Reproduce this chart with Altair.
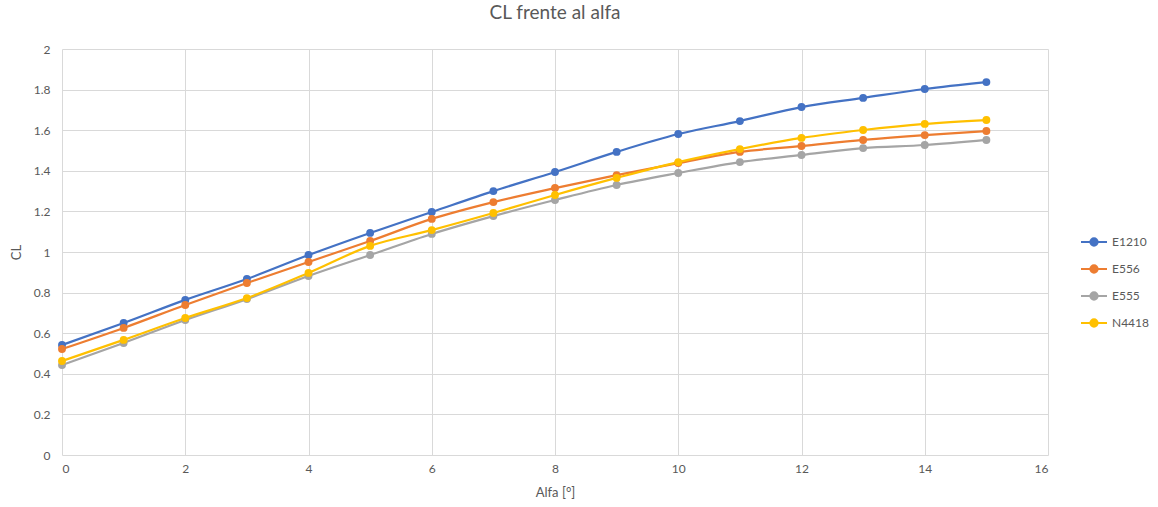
import altair as alt
import pandas as pd

# Angle of attack (degrees)
alfa = list(range(16))

# Lift coefficient per airfoil
cl_e1210 = [0.542, 0.650, 0.764, 0.867, 0.985, 1.094, 1.197, 1.300,
            1.394, 1.493, 1.581, 1.645, 1.714, 1.759, 1.803, 1.837]
cl_e556 = [0.522, 0.626, 0.739, 0.847, 0.951, 1.054, 1.163, 1.246,
           1.315, 1.379, 1.438, 1.493, 1.522, 1.552, 1.576, 1.596]
cl_e555 = [0.443, 0.552, 0.665, 0.768, 0.882, 0.985, 1.089, 1.177,
           1.256, 1.330, 1.389, 1.443, 1.478, 1.512, 1.527, 1.552]
cl_n4418 = [0.463, 0.567, 0.675, 0.773, 0.897, 1.030, 1.108, 1.192,
            1.281, 1.365, 1.443, 1.507, 1.562, 1.601, 1.631, 1.650]

series = ["E1210", "E556", "E555", "N4418"]
colors = ["#4472C4", "#ED7D31", "#A5A5A5", "#FFC000"]

rows = []
for name, vals in zip(series, [cl_e1210, cl_e556, cl_e555, cl_n4418]):
    for a, v in zip(alfa, vals):
        rows.append({"Alfa": a, "CL": v, "Perfil": name})
df = pd.DataFrame(rows)

FONT = "Lato"
TXT = "#595959"
GRID = "#D9D9D9"

# line with a dot in the middle, used as legend symbol
legend_symbol = "M-1,0L1,0M0.28,0A0.28,0.28,0,1,1,-0.28,0A0.28,0.28,0,1,1,0.28,0Z"

color = alt.Color(
    "Perfil:N",
    scale=alt.Scale(domain=series, range=colors),
    sort=series,
    legend=alt.Legend(
        title=None,
        orient="none",
        legendX=1018,
        legendY=179,
        symbolType=legend_symbol,
        symbolSize=676,
        symbolStrokeWidth=2,
        labelFont=FONT,
        labelFontSize=12,
        labelColor=TXT,
        rowPadding=5,
        labelOffset=4,
    ),
)

x = alt.X(
    "Alfa:Q",
    scale=alt.Scale(domain=[0, 16], nice=False),
    axis=alt.Axis(
        values=list(range(0, 17, 2)),
        title="Alfa [°]",
        domain=False,
        ticks=False,
        gridColor=GRID,
        labelPadding=8,
        titlePadding=12,
    ),
)
y = alt.Y(
    "CL:Q",
    scale=alt.Scale(domain=[0, 2], nice=False),
    axis=alt.Axis(
        values=[round(i * 0.2, 1) for i in range(11)],
        format="~g",
        title="CL",
        domain=False,
        ticks=False,
        gridColor=GRID,
        labelPadding=12,
        titlePadding=10,
    ),
)

lines = alt.Chart(df).mark_line(strokeWidth=2.2, interpolate="monotone").encode(
    x=x, y=y, color=color, order="Alfa:Q"
)
points = alt.Chart(df).mark_point(filled=True, size=62, opacity=1).encode(
    x=x, y=y, color=color
)

chart = (
    alt.layer(lines, points)
    .properties(
        width=986,
        height=406,
        autosize=alt.AutoSizeParams(type="none"),
        padding={"left": 62, "top": 49, "right": 110, "bottom": 52},
        title=alt.TitleParams(
            "CL frente al alfa",
            font=FONT,
            fontSize=19,
            fontWeight="normal",
            color=TXT,
            offset=20,
            anchor="middle",
        ),
    )
    .configure_axis(
        labelFont=FONT,
        labelFontSize=12,
        labelColor=TXT,
        titleFont=FONT,
        titleFontSize=13,
        titleFontWeight="normal",
        titleColor=TXT,
    )
    .configure_view(stroke=None)
)

chart.save("out.html", embed_options={"renderer": "svg", "actions": False})
